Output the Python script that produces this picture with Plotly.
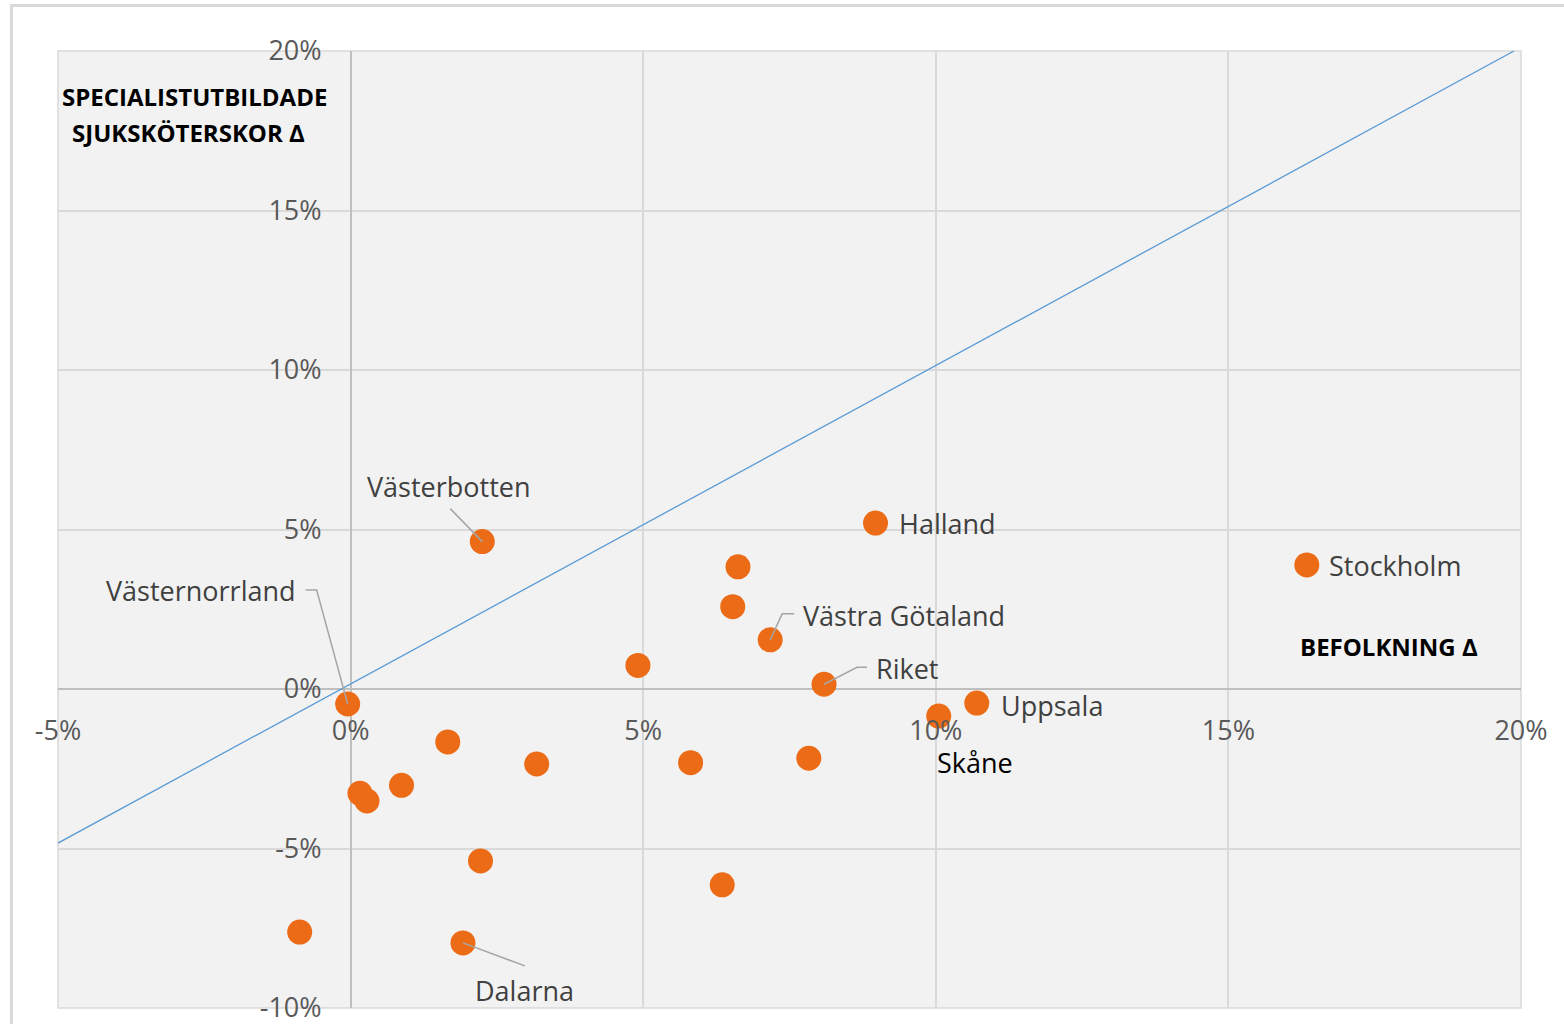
import plotly.graph_objects as go

# ---- data (percent change) ----
regions = ["Västerbotten", "Halland", "Stockholm", "", "", "Västra Götaland", "",
           "Riket", "Uppsala", "Skåne", "Västernorrland", "", "", "", "", "", "",
           "", "", "", "", "Dalarna"]
befolkning = [2.25, 8.97, 16.34, 6.62, 6.53, 7.17, 4.91, 8.09, 10.70, 10.05, -0.05,
              1.66, 3.18, 5.81, 7.83, 0.87, 0.16, 0.28, 2.22, 6.35, -0.87, 1.92]
specialist = [4.62, 5.20, 3.89, 3.83, 2.58, 1.54, 0.74, 0.15, -0.44, -0.85, -0.47,
              -1.66, -2.35, -2.31, -2.17, -3.02, -3.27, -3.51, -5.39, -6.14, -7.62, -7.96]
ref_line_x = [-5, 19.88]
ref_line_y = [-4.83, 20]

x_tick_vals = [-5, 0, 5, 10, 15, 20]
x_tick_text = ["-5%", "0%", "5%", "10%", "15%", "20%"]
y_tick_vals = [-10, -5, 0, 5, 10, 15, 20]
y_tick_text = ["-10%", "-5%", "0%", "5%", "10%", "15%", "20%"]

# ---- label styling (pixel offsets from point) ----
label_style = {
    "Västerbotten": dict(xshift=-33, yshift=55, xanchor="center", leader="M0,0 L-32,33"),
    "Halland": dict(xshift=21, yshift=0, xanchor="left", leader=None),
    "Stockholm": dict(xshift=20, yshift=-1, xanchor="left", leader=None),
    "Västra Götaland": dict(xshift=31, yshift=24, xanchor="left", leader="M0,0 L12,26 L24,26"),
    "Riket": dict(xshift=50, yshift=16, xanchor="left", leader="M0,0 L33,17 L43,17"),
    "Uppsala": dict(xshift=22, yshift=-2, xanchor="left", leader=None),
    "Skåne": dict(xshift=-4, yshift=-46, xanchor="left", leader=None, color="#000000"),
    "Västernorrland": dict(xshift=-50, yshift=113, xanchor="right", leader="M0,0 L-31,114 L-42,114"),
    "Dalarna": dict(xshift=62, yshift=-48, xanchor="center", leader="M0,0 L62,-23"),
}

FONT = "Open Sans"
W, H = 1564, 1024
L, R, T, B = 58, 43, 51, 16
PW, PH = W - L - R, H - T - B


def px2paper_x(px):
    return (px - L) / PW


def px2paper_y(py):
    return (H - B - py) / PH


fig = go.Figure()
fig.add_trace(go.Scatter(x=ref_line_x, y=ref_line_y, mode="lines",
                         line=dict(color="#5B9BD5", width=1.3), hoverinfo="skip",
                         showlegend=False))
fig.add_trace(go.Scatter(x=befolkning, y=specialist, mode="markers", text=regions,
                         marker=dict(size=25, color="#EC6B16", line=dict(width=0)),
                         showlegend=False))

annotations = []
shapes = []
for name, xv, yv in zip(regions, befolkning, specialist):
    if not name:
        continue
    st = label_style[name]
    annotations.append(dict(x=xv, y=yv, xref="x", yref="y", text=name, showarrow=False,
                            xanchor=st["xanchor"], yanchor="middle",
                            xshift=st["xshift"], yshift=st["yshift"],
                            font=dict(family=FONT, size=27, color=st.get("color", "#404040"))))
    if st["leader"]:
        shapes.append(dict(type="path", xref="x", yref="y", xsizemode="pixel",
                           ysizemode="pixel", xanchor=xv, yanchor=yv, path=st["leader"],
                           line=dict(color="#A6A6A6", width=1.5), layer="above"))

# axis titles
title_font = dict(family=FONT, size=24, color="#000000")
annotations += [
    dict(x=px2paper_x(194.5), y=px2paper_y(96), xref="paper", yref="paper",
         text="<b>SPECIALISTUTBILDADE</b>", showarrow=False, xanchor="center",
         yanchor="middle", font=title_font),
    dict(x=px2paper_x(188), y=px2paper_y(132), xref="paper", yref="paper",
         text="<b>SJUKSKÖTERSKOR Δ</b>", showarrow=False, xanchor="center",
         yanchor="middle", font=title_font),
    dict(x=px2paper_x(1388.5), y=px2paper_y(646), xref="paper", yref="paper",
         text="<b>BEFOLKNING Δ</b>", showarrow=False, xanchor="center",
         yanchor="middle", font=title_font),
]

# plot border and outer frame
shapes += [
    dict(type="rect", xref="paper", yref="paper", x0=0, x1=1, y0=0, y1=1,
         line=dict(color="#D9D9D9", width=1.5), layer="below"),
    dict(type="rect", xref="paper", yref="paper", x0=px2paper_x(11.5), x1=px2paper_x(1580),
         y0=px2paper_y(1040), y1=px2paper_y(5.5), line=dict(color="#D9D9D9", width=3),
         layer="below"),
]

xr = [-5, 20]
yr = [-10, 20]
tick_font = dict(family=FONT, size=27, color="#595959")
fig.update_layout(
    width=W, height=H,
    margin=dict(l=L, r=R, t=T, b=B, pad=0, autoexpand=False),
    paper_bgcolor="#FFFFFF", plot_bgcolor="#F2F2F2",
    font=dict(family=FONT, size=26, color="#595959"),
    xaxis=dict(range=xr, tickvals=x_tick_vals, ticktext=x_tick_text, showgrid=True,
               gridcolor="#D9D9D9", gridwidth=1.5, zeroline=True, zerolinecolor="#BFBFBF",
               zerolinewidth=2, showline=False, ticks="", anchor="free",
               position=(0 - yr[0]) / (yr[1] - yr[0]), ticklabelstandoff=23,
               layer="above traces", ticklabeloverflow="allow", automargin=False,
               tickfont=tick_font, fixedrange=True),
    yaxis=dict(range=yr, tickvals=y_tick_vals, ticktext=y_tick_text, showgrid=True,
               gridcolor="#D9D9D9", gridwidth=1.5, zeroline=True, zerolinecolor="#BFBFBF",
               zerolinewidth=2, showline=False, ticks="", anchor="free",
               position=(0 - xr[0]) / (xr[1] - xr[0]), ticklabelstandoff=29,
               layer="above traces", ticklabeloverflow="allow", automargin=False,
               tickfont=tick_font, fixedrange=True),
    annotations=annotations,
    shapes=shapes,
)

fig.write_html("out.html", config={"displayModeBar": False},
               post_script="document.body.style.margin='0';document.body.style.overflow='hidden';")
